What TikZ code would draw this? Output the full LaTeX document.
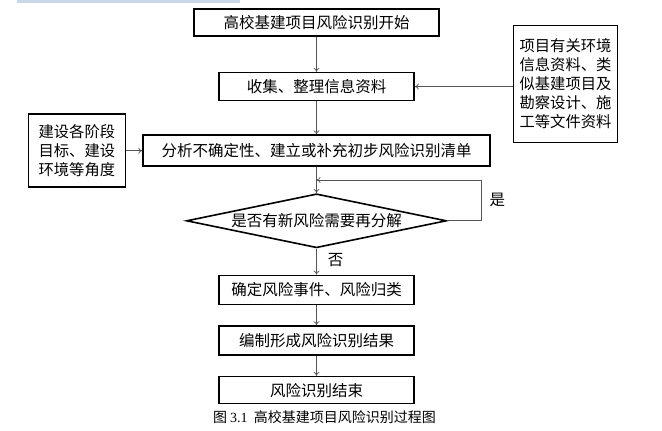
\documentclass[tikz,border=0pt]{standalone}
\usepackage{fontspec}
\setmainfont{Liberation Serif}
\newfontfamily\cjk{Noto Sans CJK SC}
\usetikzlibrary{shapes.geometric, arrows.meta, positioning}
\definecolor{traka}{HTML}{C9D7E8}
\definecolor{siva}{HTML}{555555}

\begin{document}
\begin{tikzpicture}[
  x=1pt, y=1pt,
  node distance=34pt and 16pt,
  st/.style={draw, line width=1.6pt, align=center, inner sep=0pt,
             font=\cjk\fontsize{15.5}{17}\selectfont,
             minimum width=195pt, minimum height=28pt},
  odl/.style={st, diamond, aspect=4.8, minimum width=260pt, minimum height=54pt},
  izv/.style={st, inner sep=6pt, minimum width=0pt, minimum height=0pt,
              font=\cjk\fontsize{15.3}{19}\selectfont},
  pr/.style={-{To[length=4pt, width=6pt]}, line width=0.7pt, draw=siva},
  ozn/.style={font=\cjk\fontsize{15.5}{17}\selectfont, inner sep=2pt}
]
  \useasboundingbox (0,0) rectangle (662,-431);
  \fill[traka] (17,0) rectangle (240,-3);

  \node[st, minimum width=245pt, minimum height=27pt] (poc) at (316.5,-22.5) {高校基建项目风险识别开始};
  \node[st, below=35pt of poc] (pri) {收集、整理信息资料};
  \node[st, below=33pt of pri, minimum width=347pt, minimum height=31pt] (ana) {分析不确定性、建立或补充初步风险识别清单};
  \node[odl, below=26pt of ana] (pit) {是否有新风险需要再分解};
  \node[st, below=26pt of pit, minimum height=29pt] (utv) {确定风险事件、风险归类};
  \node[st, below=20pt of utv, minimum height=29pt] (izr) {编制形成风险识别结果};
  \node[st, below=20pt of izr, minimum height=27pt] (kraj) {风险识别结束};
  \node[below=5pt of kraj, xshift=8pt, inner sep=1pt,
        font=\cjk\fontsize{14}{16}\selectfont] (nasl) {图 {\rmfamily 3.1}\ \ 高校基建项目风险识别过程图};

  \node[izv, right=98pt of pri, minimum height=117pt, yshift=2.5pt] (vanj) {项目有关环境\\信息资料、类\\似基建项目及\\勘察设计、施\\工等文件资料};
  \node[izv, left=16pt of ana, minimum width=97pt, minimum height=73pt] (cilj) {建设各阶段\\目标、建设\\环境等角度};
  \coordinate[above=13pt of pit.north] (pet);

  \draw[pr] (pri.east -| vanj.west) -- (pri.east);
  \draw[pr] (poc) -- (pri);
  \draw[pr] (pri) -- (ana);
  \draw[pr] (cilj) -- (ana);
  \draw[pr] (ana) -- (pit);
  \draw[pr] (pit.east) -- ++(34,0) |- node[ozn, pos=0.25, right=6pt] {是} (pet);
  \draw[pr] (pit) -- node[ozn, right=9pt, pos=0.45] {否} (utv);
  \draw[pr] (utv) -- (izr);
  \draw[pr] (izr) -- (kraj);
\end{tikzpicture}
\end{document}
